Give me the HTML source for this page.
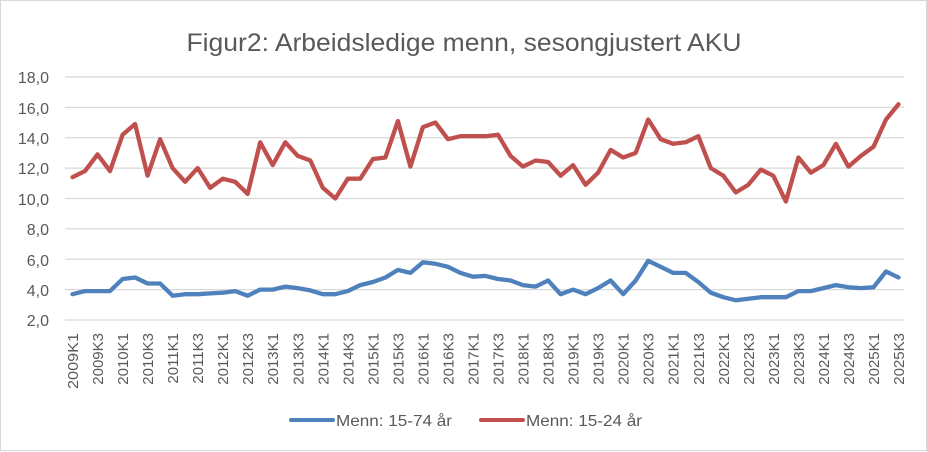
<!DOCTYPE html>
<html><head><meta charset="utf-8"><style>
body{margin:0;background:#fff;}
svg{display:block;font-family:"Liberation Sans",sans-serif;}
</style></head><body>
<svg id="c" width="927" height="452" viewBox="0 0 927 452">
<rect x="0.5" y="0.5" width="926" height="450" fill="#fff" stroke="#d9d9d9"/>
<text x="464" y="51" text-anchor="middle" font-size="25" fill="#595959" textLength="555" lengthAdjust="spacingAndGlyphs">Figur2: Arbeidsledige menn, sesongjustert AKU</text>
<g id="grid" stroke="#d9d9d9" stroke-width="1.3"></g>
<g font-size="16" fill="#595959" text-anchor="end">
<text x="49" y="83">18,0</text><text x="49" y="114">16,0</text><text x="49" y="144">14,0</text><text x="49" y="174">12,0</text><text x="49" y="205">10,0</text><text x="49" y="235">8,0</text><text x="49" y="266">6,0</text><text x="49" y="296">4,0</text><text x="49" y="326">2,0</text>
</g>
<g id="xl" font-size="15" fill="#595959" text-anchor="end">
<text transform="translate(78,333) rotate(-90)" textLength="56" lengthAdjust="spacingAndGlyphs">2009K1</text>
<text transform="translate(103,333) rotate(-90)">2009K3</text>
<text transform="translate(128.1,333) rotate(-90)">2010K1</text>
<text transform="translate(153.1,333) rotate(-90)">2010K3</text>
<text transform="translate(178.1,333) rotate(-90)">2011K1</text>
<text transform="translate(203.2,333) rotate(-90)">2011K3</text>
<text transform="translate(228.2,333) rotate(-90)">2012K1</text>
<text transform="translate(253.2,333) rotate(-90)">2012K3</text>
<text transform="translate(278.2,333) rotate(-90)">2013K1</text>
<text transform="translate(303.3,333) rotate(-90)">2013K3</text>
<text transform="translate(328.3,333) rotate(-90)">2014K1</text>
<text transform="translate(353.3,333) rotate(-90)">2014K3</text>
<text transform="translate(378.4,333) rotate(-90)">2015K1</text>
<text transform="translate(403.4,333) rotate(-90)">2015K3</text>
<text transform="translate(428.4,333) rotate(-90)">2016K1</text>
<text transform="translate(453.5,333) rotate(-90)">2016K3</text>
<text transform="translate(478.5,333) rotate(-90)">2017K1</text>
<text transform="translate(503.5,333) rotate(-90)">2017K3</text>
<text transform="translate(528.5,333) rotate(-90)">2018K1</text>
<text transform="translate(553.6,333) rotate(-90)">2018K3</text>
<text transform="translate(578.6,333) rotate(-90)">2019K1</text>
<text transform="translate(603.6,333) rotate(-90)">2019K3</text>
<text transform="translate(628.7,333) rotate(-90)">2020K1</text>
<text transform="translate(653.7,333) rotate(-90)">2020K3</text>
<text transform="translate(678.7,333) rotate(-90)">2021K1</text>
<text transform="translate(703.8,333) rotate(-90)">2021K3</text>
<text transform="translate(728.8,333) rotate(-90)">2022K1</text>
<text transform="translate(753.8,333) rotate(-90)">2022K3</text>
<text transform="translate(778.8,333) rotate(-90)">2023K1</text>
<text transform="translate(803.9,333) rotate(-90)">2023K3</text>
<text transform="translate(828.9,333) rotate(-90)">2024K1</text>
<text transform="translate(853.9,333) rotate(-90)">2024K3</text>
<text transform="translate(879,333) rotate(-90)">2025K1</text>
<text transform="translate(904,333) rotate(-90)">2025K3</text>
</g>
<polyline id="blue" fill="none" stroke="#4f81bd" stroke-width="4.3" stroke-linejoin="round" stroke-linecap="round"/>
<polyline id="red" fill="none" stroke="#c0504d" stroke-width="4.3" stroke-linejoin="round" stroke-linecap="round"/>
<line x1="291" y1="420" x2="333" y2="420" stroke="#4f81bd" stroke-width="4" stroke-linecap="round"/>
<text x="336" y="426" font-size="16" fill="#595959" textLength="116" lengthAdjust="spacingAndGlyphs">Menn: 15-74 år</text>
<line x1="481" y1="420" x2="523" y2="420" stroke="#c0504d" stroke-width="4" stroke-linecap="round"/>
<text x="526" y="426" font-size="16" fill="#595959" textLength="116" lengthAdjust="spacingAndGlyphs">Menn: 15-24 år</text>
</svg>
<script>
var red=[11.4,11.8,12.9,11.8,14.2,14.9,11.5,13.9,12.0,11.1,12.0,10.7,11.3,11.1,10.3,13.7,12.2,13.7,12.8,12.5,10.7,10.0,11.3,11.3,12.6,12.7,15.1,12.1,14.7,15.0,13.9,14.1,14.1,14.1,14.2,12.8,12.1,12.5,12.4,11.5,12.2,10.9,11.7,13.2,12.7,13.0,15.2,13.9,13.6,13.7,14.1,12.0,11.5,10.4,10.9,11.9,11.5,9.8,12.7,11.7,12.2,13.6,12.1,12.8,13.4,15.2,16.2];
var blue=[3.7,3.9,3.9,3.9,4.7,4.8,4.4,4.4,3.6,3.7,3.7,3.75,3.8,3.9,3.6,4.0,4.0,4.2,4.1,3.95,3.7,3.7,3.9,4.3,4.5,4.8,5.3,5.1,5.8,5.7,5.5,5.1,4.85,4.9,4.7,4.6,4.3,4.2,4.6,3.7,4.0,3.7,4.1,4.6,3.7,4.6,5.9,5.5,5.1,5.1,4.5,3.8,3.5,3.3,3.4,3.5,3.5,3.5,3.9,3.9,4.1,4.3,4.15,4.1,4.15,5.2,4.8];
function X(i){return 72.5+i*12.515;}function Y(v){return 320-(v-2)*15.19;}
function pts(a){return a.map(function(v,i){return X(i).toFixed(1)+','+Y(v).toFixed(1)}).join(' ');}
document.getElementById('red').setAttribute('points',pts(red));
document.getElementById('blue').setAttribute('points',pts(blue));
var g=document.getElementById('grid');
for(var v=2;v<=18;v+=2){var l=document.createElementNS('http://www.w3.org/2000/svg','line');var y=Y(v);l.setAttribute('x1',65);l.setAttribute('x2',904);l.setAttribute('y1',y);l.setAttribute('y2',y);g.appendChild(l);}
</script>
</body></html>
